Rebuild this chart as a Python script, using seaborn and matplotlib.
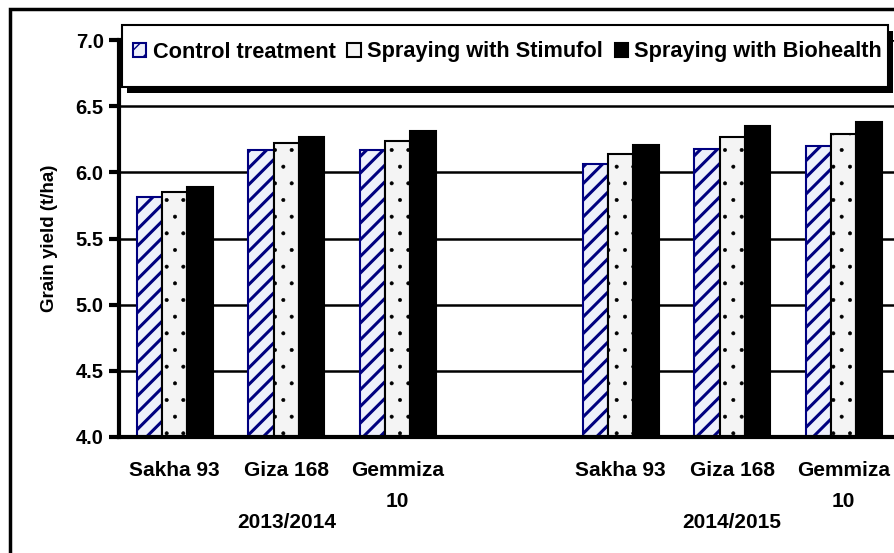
import matplotlib
matplotlib.use("Agg")
import matplotlib.pyplot as plt
import matplotlib.transforms as mtransforms
from matplotlib.patches import Rectangle, Patch
import seaborn as sns
import pandas as pd
import numpy as np

# ---- data ----
seasons = ["2013/2014", "2014/2015"]
varieties = ["Sakha 93", "Giza 168", "Gemmiza\n10"]
treatments = ["Control treatment", "Spraying with Stimufol", "Spraying with Biohealth"]
control_2013 = [5.81, 6.17, 6.17]
stimufol_2013 = [5.85, 6.22, 6.24]
biohealth_2013 = [5.89, 6.27, 6.31]
control_2014 = [6.06, 6.18, 6.20]
stimufol_2014 = [6.14, 6.27, 6.29]
biohealth_2014 = [6.21, 6.35, 6.38]
yticks = [4.0, 4.5, 5.0, 5.5, 6.0, 6.5, 7.0]

rows = []
series = {
    "2013/2014": [control_2013, stimufol_2013, biohealth_2013],
    "2014/2015": [control_2014, stimufol_2014, biohealth_2014],
}
for s in seasons:
    for ti, t in enumerate(treatments):
        for vi, v in enumerate(varieties):
            rows.append({"slot": f"{v}|{s}", "treatment": t, "yield": series[s][ti][vi]})
df = pd.DataFrame(rows)
order = [f"{v}|{seasons[0]}" for v in varieties] + ["gap"] + [f"{v}|{seasons[1]}" for v in varieties]
ticklabels = varieties + [""] + varieties

sns.set_theme(style="white")
plt.rcParams["font.family"] = ["Liberation Sans", "DejaVu Sans"]
plt.rcParams["font.weight"] = "bold"
for k in ["text.color", "axes.labelcolor", "xtick.color", "ytick.color"]:
    plt.rcParams[k] = "black"

W, H = 894, 553
fig = plt.figure(figsize=(W/100, H/100), dpi=100)
ax = fig.add_axes([119/W, 1-437/H, (899.5-119)/W, (437-40)/H])

palette = {treatments[0]: "#eef0fb", treatments[1]: "#f4f4f4", treatments[2]: "#000000"}
sns.barplot(data=df, x="slot", y="yield", hue="treatment", order=order,
            hue_order=treatments, palette=palette, width=0.68, saturation=1,
            ax=ax, legend=False, errorbar=None)

styles = {
    0: dict(edge="#000080", hatch="//", hlw=2.2),
    1: dict(edge="#000000", hatch=".", hlw=0.4),
    2: dict(edge="#000000", hatch=None, hlw=1.0),
}
for i, cont in enumerate(ax.containers):
    st = styles[i]
    for p in cont:
        p.set_edgecolor(st["edge"])
        p.set_linewidth(1.5)
        if st["hatch"]:
            p.set_hatch(st["hatch"])
            if hasattr(p, "set_hatch_linewidth"):
                p.set_hatch_linewidth(st["hlw"])

ax.set_ylim(4.0, 7.0)
ax.set_xlim(-0.5, 6.5)
ax.set_yticks(yticks)
ax.set_yticklabels([f"{v:.1f}" for v in yticks], fontsize=14.5, fontweight="bold")
ax.set_xticks(np.arange(-0.5, 6.6, 1.0))
ax.set_xticklabels([])
ax.set_xticks(np.arange(0, 7), minor=True)
ax.set_xticklabels(ticklabels, minor=True, fontsize=15, fontweight="bold", linespacing=1.85)
ax.tick_params(axis="x", which="major", direction="out", length=5, width=3, color="black")
ax.tick_params(axis="x", which="minor", length=0, pad=17)
ax.tick_params(axis="y", direction="out", length=7, width=3, color="black", pad=4, left=True)
ax.yaxis.grid(True, color="black", linewidth=1.8)
ax.set_axisbelow(True)
for side in ["top", "right"]:
    ax.spines[side].set_visible(False)
for side in ["left", "bottom"]:
    ax.spines[side].set_linewidth(3)
    ax.spines[side].set_color("black")
ax.set_xlabel("")
ax.set_ylabel("Grain yield (t/ha)", fontsize=13.5, fontweight="bold", labelpad=13)

# season labels
trans = mtransforms.blended_transform_factory(ax.transData, fig.transFigure)
for xpos, s in zip([1, 5], seasons):
    ax.text(xpos, 1-522/H, s, transform=trans, ha="center", va="center",
            fontsize=15, fontweight="bold")

# legend box (with black drop shadow)
bx0, by0, bx1, by1 = 121.5, 25, 888, 87
ax.add_patch(Rectangle(((bx0+5)/W, 1-(by1+6)/H), (bx1-bx0)/W, (by1-by0)/H,
                       transform=fig.transFigure, facecolor="black", edgecolor="none",
                       clip_on=False, zorder=4))
ax.add_patch(Rectangle((bx0/W, 1-by1/H), (bx1-bx0)/W, (by1-by0)/H,
                       transform=fig.transFigure, facecolor="white", edgecolor="black",
                       linewidth=1.5, clip_on=False, zorder=4.1))

handles = []
for i, t in enumerate(treatments):
    st = styles[i]
    handles.append(Patch(facecolor=palette[t], edgecolor=st["edge"], linewidth=1.5,
                         hatch=st["hatch"] if i == 0 else None, label=t))
leg = ax.legend(handles=handles, ncol=3, loc="center left",
                bbox_to_anchor=(133/W, 1-52/H), bbox_transform=fig.transFigure,
                frameon=False, handlelength=0.6, handleheight=0.6, handletextpad=0.3,
                columnspacing=0.55, borderpad=0, borderaxespad=0,
                prop={"size": 15.7, "weight": "bold"})
leg.set_zorder(6)

# outer frame
fig.patches.append(Rectangle((9.5/W, -0.2), 1.3, 1.2 - 8.5/H, transform=fig.transFigure,
                             fill=False, edgecolor="black", linewidth=2.5, clip_on=False))

fig.savefig("out.png", dpi=100)
